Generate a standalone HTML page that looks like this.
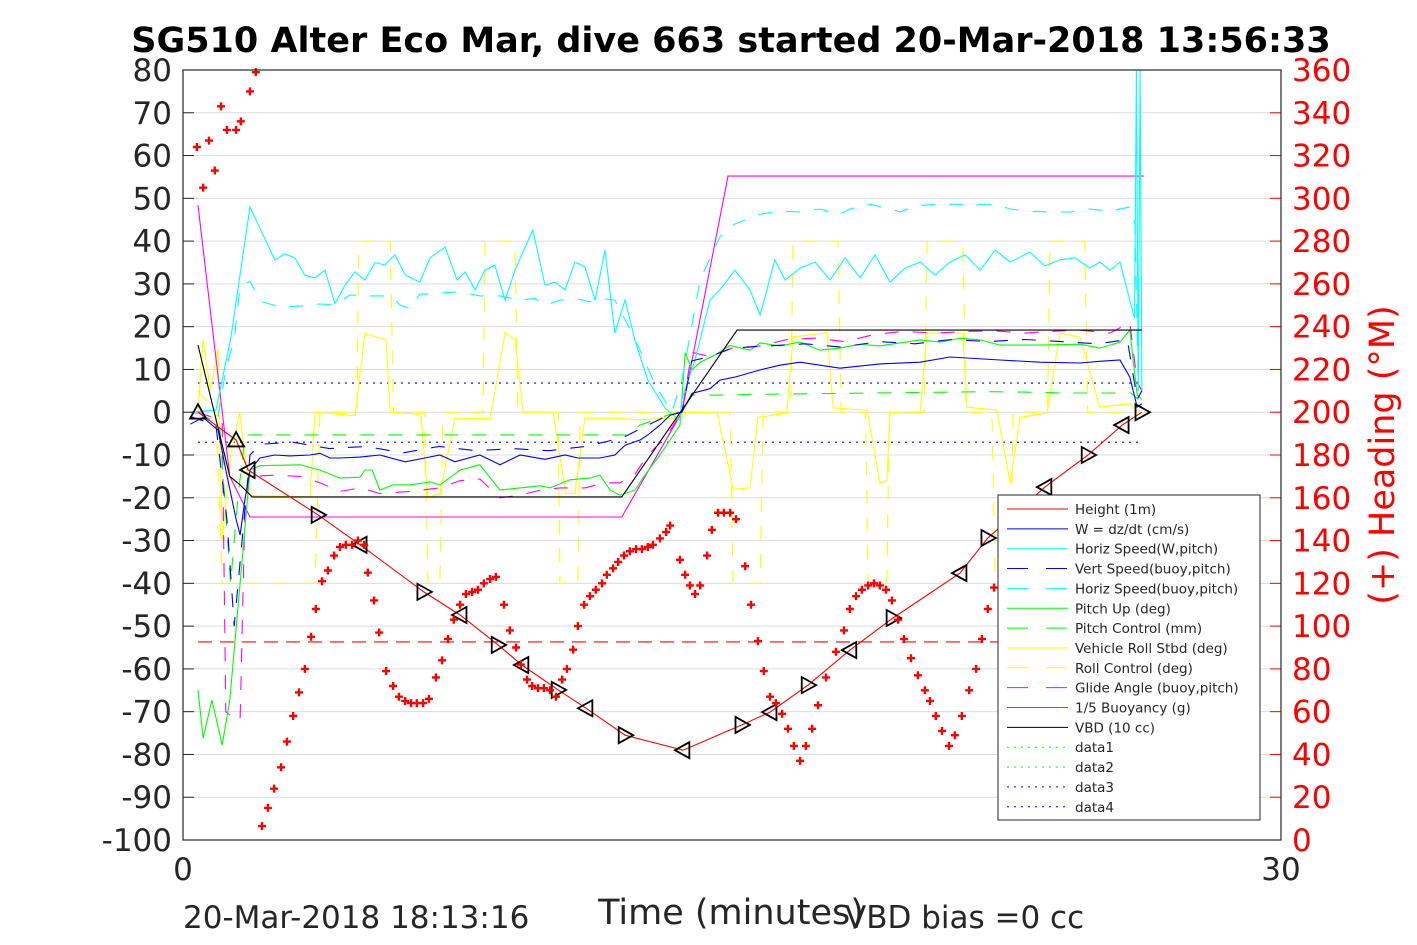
<!DOCTYPE html>
<html><head><meta charset="utf-8">
<style>
html,body{margin:0;padding:0;background:#fff;}
svg{display:block;font-family:"DejaVu Sans","Liberation Sans",sans-serif;}
</style></head>
<body>
<svg id="chart" width="1417" height="945" viewBox="0 0 1417 945" xmlns="http://www.w3.org/2000/svg">
<rect x="0" y="0" width="1417" height="945" fill="#fff"/>
<g id="grid"></g>
<g id="series"></g>
<g id="frame"></g>
<text x="731" y="52" text-anchor="middle" font-size="35" font-weight="bold">SG510 Alter Eco Mar, dive 663 started 20-Mar-2018 13:56:33</text>
<text x="731" y="924" text-anchor="middle" font-size="35" fill="#262626">Time (minutes)</text>
<text x="183" y="928" font-size="31" fill="#262626">20-Mar-2018 18:13:16</text>
<text x="845" y="928" font-size="31" fill="#262626">VBD bias =0 cc</text>
<text transform="translate(1394,455) rotate(-90)" text-anchor="middle" font-size="35" fill="#f00">(+) Heading (°M)</text>
<g id="legend"></g>
</svg>
<script>
const NS="http://www.w3.org/2000/svg";
const leftTicks=[80,70,60,50,40,30,20,10,0,-10,-20,-30,-40,-50,-60,-70,-80,-90,-100];
const rightTicks=[360,340,320,300,280,260,240,220,200,180,160,140,120,100,80,60,40,20,0];
const xTicks=[0,30];
const legendLabels=["Height (1m)","W = dz/dt (cm/s)","Horiz Speed(W,pitch)","Vert Speed(buoy,pitch)","Horiz Speed(buoy,pitch)","Pitch Up (deg)","Pitch Control (mm)","Vehicle Roll Stbd (deg)","Roll Control (deg)","Glide Angle (buoy,pitch)","1/5 Buoyancy (g)","VBD (10 cc)","data1","data2","data3","data4"];

const heightT=[0.41,1.45,1.78,3.69,4.84,6.58,7.57,8.61,9.26,10.25,11.01,12.08,13.66,15.27,16.04,17.08,18.22,19.4,21.23,21.99,23.55,24.73,25.66,26.2];
const heightV=[0,-6.5,-13.5,-24,-31,-42,-47.4,-54.4,-59.1,-64.9,-69.2,-75.5,-79,-73.1,-70.1,-63.8,-55.6,-48.1,-37.6,-29.4,-17.5,-10,-3,0];

const headingT=[0.38,0.55,0.71,0.87,1.04,1.20,1.45,1.58,1.83,1.99,2.16,2.32,2.49,2.68,2.84,3.01,3.17,3.33,3.50,3.63,3.80,3.96,4.13,4.29,4.45,4.62,4.78,4.95,5.05,5.22,5.36,5.55,5.74,5.90,6.07,6.23,6.39,6.56,6.72,6.91,7.08,7.24,7.40,7.57,7.73,7.90,8.06,8.22,8.39,8.55,8.77,8.93,9.10,9.23,9.40,9.54,9.70,9.86,10.03,10.19,10.36,10.49,10.66,10.79,10.96,11.12,11.28,11.45,11.58,11.75,11.89,12.05,12.21,12.38,12.54,12.70,12.84,13.03,13.20,13.31,13.58,13.72,13.85,13.99,14.13,14.32,14.45,14.62,14.78,14.95,15.11,15.36,15.52,15.71,15.87,16.04,16.20,16.37,16.53,16.69,16.86,17.02,17.19,17.35,17.57,17.84,18.06,18.22,18.39,18.55,18.72,18.88,19.04,19.21,19.37,19.54,19.70,19.89,20.08,20.27,20.41,20.57,20.74,20.93,21.09,21.28,21.48,21.67,21.83,21.99,22.16];
const headingDeg=[324,305,327,313,343,332,332,336,350,359,6.5,15,24,34,46,58,69,80,95,108,121,126,133,137,138,138,140,138,125,112,97,79,72,67,65,64,64,64,66,76,84,94,103,110,115,116,117,120,122,123,110,98,90,82,75,72,71,71,70,67,75,80,89,100,110,114,117,120,124,127,130,133,135,136,136,137,138,141,144,147,131,124,119,115,119,133,145,153,153,153,150,128,110,93,79,67,64,59,52,44,37,44,52,63,76,88,98,108,114,117,119,120,119,117,112,103,94,85,77,70,65,58,51,44,49,58,70,80,94,108,118,124];

const wT=[0.2,0.55,0.96,1.17,1.45,1.56,1.69,1.83,2.1,2.51,2.92,3.47,3.74,4.02,4.29,4.84,5.38,6.07,6.61,7.02,7.43,8.11,8.66,9.21,9.89,10.44,10.79,11.39,11.8,12.08,12.49,12.7,13.03,13.31,13.63,13.91,14.4,14.67,15.08,15.77,16.31,16.86,17.95,19.04,20.14,20.96,22.32,23.42,24.51,25.05,25.6,25.87,26.07,26.2];
const wV=[-2.8,-1.2,-4.2,-13.5,-25,-28.7,-20.5,-13.5,-10.7,-10,-10.2,-10,-9.6,-10.7,-10.7,-10.5,-10,-11.6,-10.7,-10,-11.6,-10,-12.3,-10,-11,-10,-10.7,-10.7,-10,-7.7,-6.5,-5.3,-3,-0.7,0,4.4,5.5,7.5,8.2,9.9,11,11.7,10.3,11.3,11.7,12.9,12.2,11.7,11.5,11.9,12.2,8.2,1.2,2];

const vsT=[0.2,0.9,1.2,1.4,1.56,1.83,2.1,3,4,5,6,7,8,9,10,11,12,12.7,13.3,13.63,13.9,14.4,15,16,17,18,19,20,21,22,23,24,25,25.8,26.07,26.2];
const vsV=[-1,-3,-25,-50,-35,-10,-7.5,-7,-8.5,-8,-9.5,-8,-9,-8.5,-9,-8,-6,-3,-0.5,0,12,13,15,15.5,16,15.2,16.5,16,17,16.5,17,16.5,16,17,3,5];

const hsT=[0.2,0.9,1.3,1.83,2.1,2.51,2.78,3.06,3.33,3.61,3.88,4.15,4.43,4.7,4.97,5.25,5.52,5.79,6.07,6.47,6.75,7.16,7.49,7.71,7.98,8.25,8.52,8.8,9.07,9.34,9.56,9.89,10.16,10.44,10.71,10.98,11.26,11.53,11.8,12.08,12.35,12.7,13.17,13.58,13.63,13.99,14.4,14.67,15.08,15.49,15.77,16.17,16.45,16.86,17.27,17.68,18.09,18.5,18.91,19.32,19.73,20.14,20.55,20.96,21.37,21.78,22.19,22.6,23.14,23.55,23.96,24.37,24.78,25.05,25.33,25.6,25.87,26.0,26.05,26.1,26.15,26.2];
const hsV=[0,0.5,17,48,43,35.6,37,36.1,32,31.4,33.2,25.4,29.7,32.8,30.9,35,34.4,36.8,32.1,30.4,36.1,38.6,30.9,32.8,28.6,33.2,34.4,26.2,33.2,38.4,42.6,29.7,30.4,28.6,35.1,34,26.2,37.9,18.5,26.2,16.8,7.5,1,-2,3,12.2,26.2,28.6,33.2,28.6,22.7,35.6,30.9,33.7,35.1,30.9,36.1,31.4,36.8,30.4,33.7,35.1,32.1,35.1,36.8,33.2,37.9,35.1,37.4,34.2,35.6,36.1,33.7,35.1,33.2,35.1,26.2,22,80,5,80,5];

const hbT=[0.2,0.96,1.17,1.4,1.56,1.83,2.1,2.65,3.2,3.74,4.15,4.56,5.11,5.66,5.93,6.2,6.47,7.02,7.57,8.11,8.66,9.21,9.62,9.89,10.3,10.71,11.12,11.39,11.8,12.08,12.49,12.9,13.36,13.63,14.13,14.67,15.08,15.77,16.31,16.86,17.4,17.95,18.22,18.77,19.32,19.59,20,20.55,21.09,21.64,22.19,22.6,23.14,23.69,24.23,24.78,25.33,25.87,26.01,26.1];
const hbV=[0,-1,10,17,29.5,30.6,26,24.6,24.8,25.3,25.1,27.4,27.2,27.2,25.1,24.2,27.6,27.8,28.2,27.2,27.2,26.2,26.6,25,26.2,26.6,25.8,26.6,26.2,21.6,14.5,6.4,0,7.5,31,41,44,46.3,47,46.8,47.5,46.3,47.5,48.6,47.5,46.8,48.2,48.6,48.6,48.6,48.6,47.5,47,46.8,46.8,47.5,47,48,44,5];

const pitchT=[0.41,0.55,0.79,1.07,1.28,1.56,1.83,2.1,3.2,3.74,4.29,4.84,4.97,5.17,5.38,5.74,6.2,6.75,7.02,7.57,8.11,8.66,9.21,9.76,10.03,10.57,11.12,11.39,11.67,11.94,12.35,12.62,13.03,13.31,13.58,13.72,13.91,14.13,14.54,14.95,15.49,15.77,16.31,16.86,17.4,17.95,18.5,19.04,19.59,20.14,20.69,21.23,21.78,22.32,23.42,24.51,25.05,25.6,25.87,26.07,26.2];
const pitchV=[-64.9,-76.2,-67.3,-77.8,-67.3,-40,-13.5,-12.5,-12.3,-13.5,-15.4,-15.2,-13.5,-13.5,-18.2,-17,-17,-16.3,-17,-13.5,-12.3,-18.2,-17.7,-17.2,-17.7,-15.8,-15.4,-14.7,-18.2,-19.4,-18.2,-14.7,-10,-6.5,-3,13.9,9.9,11.7,13.4,15.6,14.5,16.2,15.5,16.4,14.5,15,15.9,15.5,16.2,16.9,16.4,17.3,16.9,15.7,15.7,15.9,15,16.4,19.2,4,3];

const pcT=[0.41,1.0,1.3,1.5,1.7,12.1,12.49,13.3,13.63,13.91,14.67,15.77,18,20,22,23,24,25.9,26.1];
const pcV=[0,-3,-40,-20,-5.3,-5.3,-3,-0.5,0,4,4,4.2,4.4,4.6,4.8,4.7,4.5,4.5,3];

const rollT=[0.41,0.55,0.75,0.96,1.07,1.3,1.55,1.83,3.47,3.61,4.7,4.97,5.55,5.66,6.5,6.69,7.02,7.43,8.39,8.8,9.07,9.29,10.11,10.46,10.71,10.98,11.94,12.4,13,13.63,13.66,14.6,15.03,15.49,15.71,16.5,16.67,17.6,17.76,18.69,19.04,19.23,19.32,20.14,20.33,21.31,21.42,22.24,22.6,22.87,23.61,23.96,24.51,25.05,25.87,26.07];
const rollV=[0,17,5,15,-30,-10,0,-19.5,-19.8,0,-0.8,18.3,17,0,-0.5,-20,-19,-1.5,-1.5,18.6,17,0,0,-19,-18.9,-1.4,-1.4,-1.8,-1.5,-1.4,0,-0.2,-18,-17.7,-1.2,-0.2,17.6,18.6,1,0.5,-16.6,-16,-0.2,-0.2,18.5,18.5,1.2,0.5,-16.5,-1.2,-0.2,18.5,17.5,1.2,2,0];

const rcT=[0.41,0.9,1.07,3.61,3.74,4.75,4.8,5.66,5.75,6.6,6.69,7.02,7.1,8.2,8.25,9.07,9.15,10.25,10.3,10.79,10.85,14.95,15.03,15.77,15.85,16.6,16.67,17.9,17.98,18.65,18.72,19.23,19.3,20.25,20.33,21.31,21.4,22.1,22.19,22.6,22.68,23.62,23.69,24.64,24.72,26.2];
const rcV=[5,0,-40,-40,0,0,40,40,0,0,-40,-40,0,0,40,40,0,0,-40,-40,0,0,-40,-40,0,0,40,40,0,0,-40,-40,0,0,40,40,0,0,-40,-40,0,0,40,40,0,0];

const glideT=[0.41,1.07,1.17,1.45,1.56,1.7,1.83,2.51,3.2,3.74,4.29,4.84,5.38,6.2,7.02,7.57,8.11,8.66,9.21,9.76,10.3,10.98,11.53,11.94,12.35,12.7,13.17,13.63,13.9,14.4,15,15.77,16.5,17.27,18.1,18.9,19.7,20.55,21.4,22.2,23,23.7,24.5,25.33,25.87,26.07,26.2];
const glideV=[0,-2,-70,-72,-72,-20,-15,-14.7,-15,-16.5,-18.5,-17.7,-19,-18.5,-17.7,-16,-15.6,-20,-19.4,-18.2,-17.7,-17.7,-16.5,-16.5,-14.5,-10,-6,0,14,13,15,15.5,17,17.3,16.5,18.2,18.9,18.5,18.9,19,18.5,18.9,19.2,18.5,21,7,5];

const buoyT=[0.41,1.28,1.83,11.99,13.63,14.89,26.2,26.25];
const buoyV=[48.4,-15,-24.5,-24.5,0,55.2,55.2,55.2];

const vbdT=[0.41,1.28,1.56,1.89,11.99,15.14,26.2];
const vbdV=[15.7,-15,-17,-19.8,-19.8,19.2,19.2];

const refT=[0.41,26.2];
const data3V=[6.8,6.8];
const data4V=[-7,-7];
const redRefV=[-53.7,-53.7];

const X0=183,X1=1281,Y0=70,Y1=840;
function xs(t){return X0+(t-0)/(30-0)*(X1-X0);}
function ys(v){return Y1-(v+100)/180*(Y1-Y0);}
function yh(h){return Y1-h/360*(Y1-Y0);}

function mk(tag,attrs,parent){const e=document.createElementNS(NS,tag);for(const k in attrs)e.setAttribute(k,attrs[k]);parent.appendChild(e);return e;}

const grid=document.getElementById('grid');
const frame=document.getElementById('frame');
const series=document.getElementById('series');
const legend=document.getElementById('legend');

leftTicks.forEach(v=>{
  const y=ys(v);
  if(v!==80&&v!==-100){const g=mk('line',{x1:X0,x2:X1,y1:y,y2:y,stroke:'#dcdcdc','stroke-width':1},grid);
  
  }
  const tk=mk('line',{x1:X0,x2:X0+11,y1:y,y2:y,stroke:'#262626','stroke-width':1},frame);
  
  
  const t=mk('text',{x:X0-11,y:y+11,'text-anchor':'end','font-size':31,fill:'#262626'},frame);
  t.textContent=v;
  
  
});
rightTicks.forEach(h=>{
  const y=yh(h);
  const tk=mk('line',{x1:X1-11,x2:X1,y1:y,y2:y,stroke:'#f00','stroke-width':1},frame);
  
  
  const t=mk('text',{x:X1+11,y:y+11,'font-size':31,fill:'#f00'},frame);
  t.textContent=h;
  
  
});
xTicks.forEach(v=>{
  const t=mk('text',{x:xs(v),y:880,'text-anchor':'middle','font-size':31,fill:'#262626'},frame);
  t.textContent=v;
  
  
});
const box=mk('rect',{x:X0,y:Y0,width:X1-X0,height:Y1-Y0,fill:'none',stroke:'#262626','stroke-width':1.2},frame);



function line(T,V,color,dash,name,yf){
  const n=Math.min(T.length,V.length);const f=yf||ys;
  let d='';for(let i=0;i<n;i++)d+=(i?'L':'M')+xs(T[i]).toFixed(1)+','+f(V[i]).toFixed(1);
  const p=mk('path',{d:d,fill:'none',stroke:color,'stroke-width':1.1},series);
  if(dash)p.setAttribute('stroke-dasharray',dash);
  
  
}
line(refT,redRefV,'#f00','14,8','reference-line-red');
line(refT,data3V,'#00f','2,5','data3-line');
line(refT,data4V,'#00f','2,5','data4-line');
line(rcT,rcV,'#ff0','14,14','roll-control-line');
line(rollT,rollV,'#ff0',null,'vehicle-roll-line');
line(buoyT,buoyV,'#f0f',null,'buoyancy-line');
line(glideT,glideV,'#f0f','14,14','glide-angle-line');
line(pcT,pcV,'#0f0','14,14','pitch-control-line');
line(pitchT,pitchV,'#0f0',null,'pitch-up-line');
line(hbT,hbV,'#0ff','14,14','horiz-speed-buoy-line');
line(hsT,hsV,'#0ff',null,'horiz-speed-w-line');
line(vsT,vsV,'#00f','14,14','vert-speed-line');
line(wT,wV,'#00f',null,'w-line');
line(vbdT,vbdV,'#000',null,'vbd-line');
line(heightT,heightV,'#f00',null,'height-line');

heightT.forEach((t,i)=>{
  const x=xs(t),y=ys(heightV[i]);const s=8;let pts;
  if(i<2)pts=[[x,y-s],[x-s,y+s*0.8],[x+s,y+s*0.8]];
  else if(i%2===0)pts=[[x-s,y],[x+s*0.8,y-s],[x+s*0.8,y+s]];
  else pts=[[x+s,y],[x-s*0.8,y-s],[x-s*0.8,y+s]];
  const m=mk('polygon',{points:pts.map(p=>p.join(',')).join(' '),fill:'none',stroke:'#000','stroke-width':1.8},series);
  
  
});
const hn=Math.min(headingT.length,headingDeg.length);
for(let i=0;i<hn;i++){
  const x=xs(headingT[i]),y=yh(headingDeg[i]);
  const m=mk('path',{d:`M${x-4},${y}H${x+4}M${x},${y-4}V${y+4}`,stroke:'#f00','stroke-width':2.4},series);
  
  
}

const styles=[['#f00',null],['#00f',null],['#0ff',null],['#00f','21,18'],['#0ff','21,18'],['#0f0',null],['#0f0','21,18'],['#ff0',null],['#ff0','21,18'],['#f0f','21,18'],['#f0f',null],['#000',null],['#0f0','2,5'],['#0f0','2,5'],['#00f','2,5'],['#00f','2,5']];
const lb=mk('rect',{x:998,y:495,width:262,height:325,fill:'#fff',stroke:'#262626','stroke-width':1},legend);


legendLabels.forEach((lab,i)=>{
  const y=509+i*19.85;
  const l=mk('line',{x1:1007,x2:1068,y1:y,y2:y,stroke:styles[i][0],'stroke-width':1},legend);
  if(styles[i][1])l.setAttribute('stroke-dasharray',styles[i][1]);
  
  
  const t=mk('text',{x:1075,y:y+5,'font-size':13.5,fill:'#262626'},legend);
  t.textContent=lab;
  
  
});
</script>
</body></html>
